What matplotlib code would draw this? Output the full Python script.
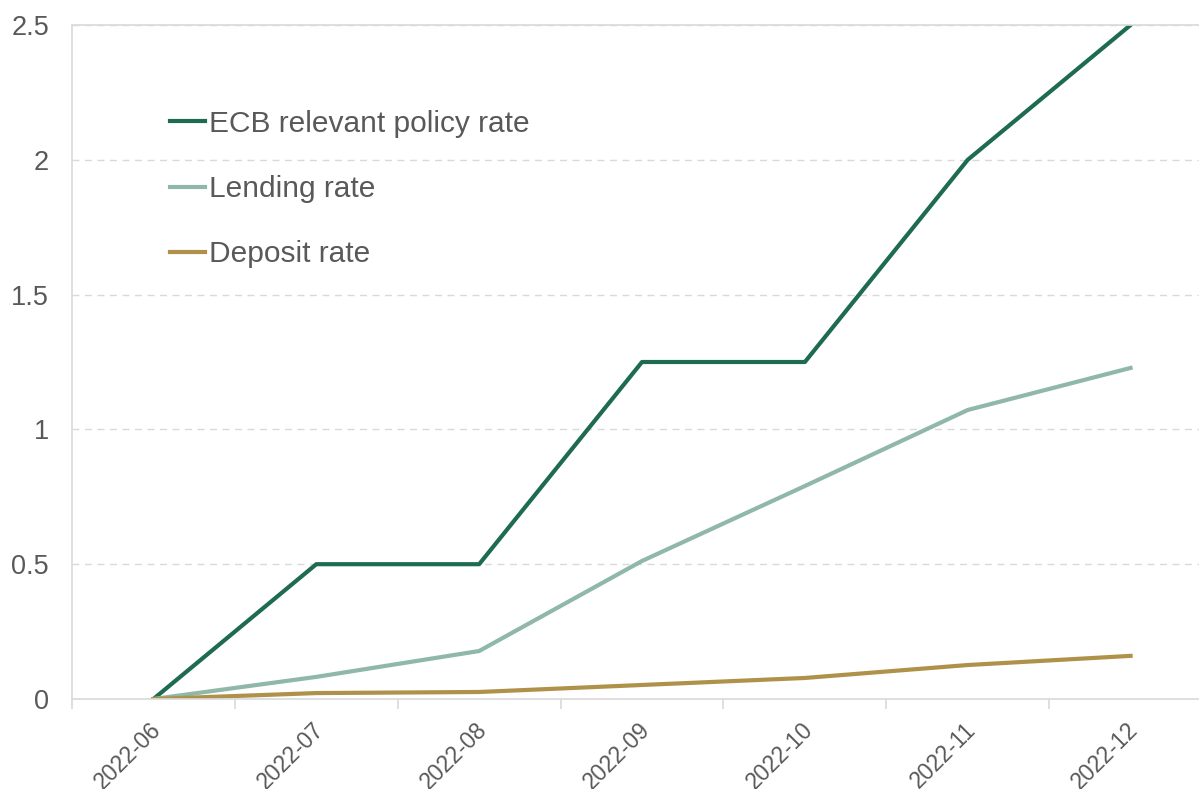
import matplotlib.pyplot as plt
import matplotlib.transforms as mtransforms
import numpy as np

plt.rcParams['font.family'] = ['Liberation Sans', 'DejaVu Sans']

months = ['2022-06', '2022-07', '2022-08', '2022-09', '2022-10', '2022-11', '2022-12']
ecb_rate = [0, 0.5, 0.5, 1.25, 1.25, 2.0, 2.5]
lending_rate = [0, 0.082, 0.178, 0.512, 0.79, 1.072, 1.228]
deposit_rate = [0, 0.022, 0.026, 0.052, 0.078, 0.126, 0.16]

grey_text = '#595959'
axis_grey = '#d9d9d9'

fig = plt.figure(figsize=(11.99, 7.89), dpi=100)
ax = fig.add_axes([72/1199, 1 - 699/789, 1 - 72/1199, (699 - 25)/789])

x = np.arange(len(months))
ax.plot(x, ecb_rate, color='#1e6b50', lw=3, label='ECB relevant policy rate')
ax.plot(x, lending_rate, color='#8fb8a8', lw=3, label='Lending rate')
ax.plot(x, deposit_rate, color='#b0914a', lw=3, label='Deposit rate')

ax.set_xlim(-0.5, 6.42)
ax.set_ylim(0, 2.5)

# category labels at centres, tick marks between categories
ax.set_xticks(x)
ax.set_xticklabels(months, rotation=45, ha='right', rotation_mode='anchor',
                   fontsize=16.5, color=grey_text)
ax.set_xticks(np.arange(-0.5, 6.5, 1), minor=True)
ax.tick_params(axis='x', which='major', length=0, pad=14)
ax.tick_params(axis='x', which='minor', length=7, color=axis_grey, width=1.2)
shift = mtransforms.ScaledTranslation(-4/100, 0, fig.dpi_scale_trans)
for lbl in ax.get_xticklabels():
    lbl.set_transform(lbl.get_transform() + shift)

ax.set_yticks([0, 0.5, 1, 1.5, 2, 2.5])
ax.set_yticklabels(['0', '0.5', '1', '1.5', '2', '2.5'], fontsize=19.5, color=grey_text)
ax.tick_params(axis='y', length=0, pad=16.5)

ax.grid(axis='y', color=axis_grey, linestyle=(0, (5, 4)), lw=1)
ax.set_axisbelow(True)

for s in ['left', 'bottom', 'top']:
    ax.spines[s].set_color(axis_grey)
    ax.spines[s].set_linewidth(1.2)
ax.spines['right'].set_visible(False)

leg = ax.legend(loc='upper left', bbox_to_anchor=(0.063, 0.914), frameon=False,
                fontsize=21.5, handlelength=1.17, handletextpad=0.13,
                labelspacing=1.25, labelcolor=grey_text)

fig.savefig('out.png', dpi=100)
